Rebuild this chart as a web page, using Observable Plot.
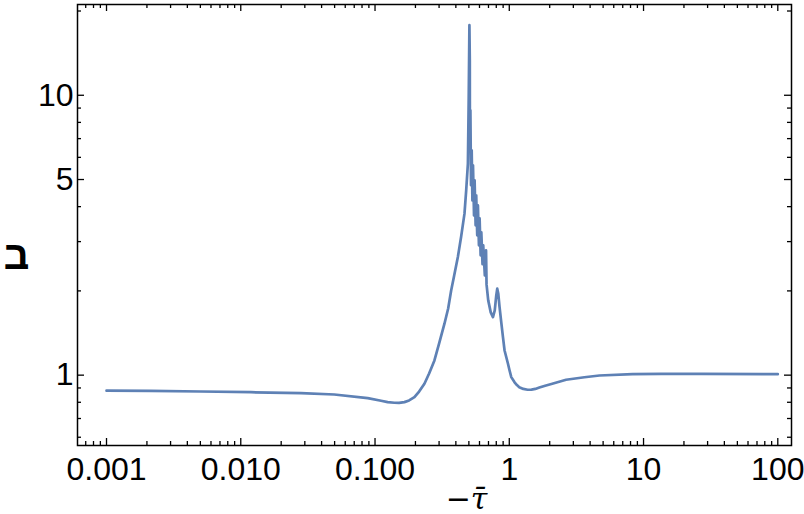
<!DOCTYPE html>
<html>
<head>
<meta charset="utf-8">
<script src="https://cdn.jsdelivr.net/npm/d3@7"></script>
<script src="https://cdn.jsdelivr.net/npm/@observablehq/plot@0.6"></script>
<style>
  html, body { margin: 0; padding: 0; background: #fff; }
  #chart svg { display: block; }
</style>
</head>
<body>
<div id="chart"></div>
<script>
// −τ̄ values (x) and ב values (y)
const tau = [
  0.001, 0.00213, 0.00503, 0.0119, 0.0281, 0.0497, 0.0882, 0.1109, 0.1242, 0.1394,
  0.151, 0.1655, 0.1794, 0.1965, 0.2130, 0.2333, 0.2529, 0.277, 0.3003, 0.329,
  0.3506, 0.369, 0.3887, 0.414, 0.4384, 0.4638, 0.4776, 0.4918, 0.4985, 0.5047,
  0.5082, 0.5090, 0.5133, 0.5187, 0.5249, 0.5313, 0.5368, 0.5461, 0.5518, 0.5614,
  0.5672, 0.5770, 0.5840, 0.5941, 0.6013, 0.6117, 0.6191, 0.6320, 0.6397, 0.6575,
  0.6713, 0.6770, 0.6970, 0.7277, 0.7557, 0.7795, 0.7999, 0.8137, 0.8277, 0.8465,
  0.8716, 0.8974, 0.9224, 0.9779, 1.005, 1.035, 1.095, 1.140, 1.187, 1.272, 1.370,
  1.463, 1.563, 1.675, 1.85, 2.058, 2.649, 3.628, 4.695, 8.28, 13.6, 27.1, 100
];
const bet = [
  0.880, 0.878, 0.874, 0.869, 0.862, 0.853, 0.828, 0.810, 0.801, 0.797,
  0.796, 0.801, 0.812, 0.834, 0.874, 0.932, 1.014, 1.129, 1.298, 1.527,
  1.731, 2.008, 2.272, 2.642, 3.133, 3.776, 4.575, 5.70, 9.60, 17.80,
  13.34, 6.36, 8.84, 4.77, 6.36, 4.21, 5.62, 3.72, 4.97, 3.43,
  4.39, 3.16, 4.04, 2.91, 3.63, 2.68, 3.24, 2.49, 2.91, 2.27,
  2.79, 2.11, 1.85, 1.676, 1.612, 1.703, 1.927, 2.037, 1.959, 1.751,
  1.543, 1.367, 1.225, 1.098, 1.039, 0.984, 0.943, 0.922, 0.906, 0.893, 0.887,
  0.888, 0.893, 0.903, 0.917, 0.930, 0.963, 0.983, 0.997, 1.008, 1.010, 1.010, 1.008
];

const xMajor = [0.001, 0.01, 0.1, 1, 10, 100];
const xMajorLabels = ["0.001", "0.010", "0.100", "1", "10", "100"];
const xMinor = [];
for (let k = -4; k <= 2; k++) for (let m = 2; m <= 9; m++) {
  const v = m * Math.pow(10, k);
  if (v > 0.00061 && v < 126) xMinor.push(v);
}
const yMajor = [1, 5, 10];
const yMajorLabels = ["1", "5", "10"];
const yMinor = [0.6, 0.7, 0.8, 0.9, 2, 3, 4, 6, 7, 8, 9, 20];

const xLabel = "−τ̄";
const yLabel = "ב";

const data = tau.map((t, i) => ({tau: t, bet: bet[i]}));

const W = 804, H = 514;
const mL = 77, mR = 13, mT = 4, mB = 69;
const fw = W - mL - mR, fh = H - mT - mB;
const major = 7, minor = 4;
const tickStyle = {stroke: "black", strokeWidth: 1.3};
const sans = "Liberation Sans";

const chart = Plot.plot({
  width: W, height: H,
  marginLeft: mL, marginRight: mR, marginTop: mT, marginBottom: mB,
  x: {type: "log", domain: [6.08e-4, 126.5], axis: null},
  y: {type: "log", domain: [0.5606, 21.1], axis: null},
  marks: [
    Plot.tickX(xMajor, {x: d => d, insetTop: fh - major, ...tickStyle}),
    Plot.tickX(xMajor, {x: d => d, insetBottom: fh - major, ...tickStyle}),
    Plot.tickX(xMinor, {x: d => d, insetTop: fh - minor, ...tickStyle}),
    Plot.tickX(xMinor, {x: d => d, insetBottom: fh - minor, ...tickStyle}),
    Plot.tickY(yMajor, {y: d => d, insetRight: fw - major, ...tickStyle}),
    Plot.tickY(yMajor, {y: d => d, insetLeft: fw - major, ...tickStyle}),
    Plot.tickY(yMinor, {y: d => d, insetRight: fw - minor, ...tickStyle}),
    Plot.tickY(yMinor, {y: d => d, insetLeft: fw - minor, ...tickStyle}),
    Plot.line(data, {x: "tau", y: "bet", stroke: "#5E81B5", strokeWidth: 2.7, strokeLinejoin: "round"}),
    Plot.frame({stroke: "black", strokeWidth: 1.5}),
    Plot.text(xMajor, {
      x: d => d, text: (d, i) => xMajorLabels[i], frameAnchor: "bottom",
      dy: 12, lineAnchor: "top", fontSize: 32, fontFamily: sans, fill: "black"
    }),
    Plot.text(yMajor, {
      y: d => d, text: (d, i) => yMajorLabels[i], frameAnchor: "left",
      dx: -4, textAnchor: "end", fontSize: 32, fontFamily: sans, fill: "black"
    }),
    Plot.text([xLabel], {
      text: d => d, frameAnchor: "bottom", dx: 32, dy: 63, lineAnchor: "bottom",
      fontSize: 30, fontStyle: "italic", fontFamily: "DejaVu Serif", fill: "black"
    }),
    Plot.text([yLabel], {
      text: d => d, frameAnchor: "left", dx: -61, dy: 31, textAnchor: "middle",
      fontSize: 40, fontWeight: "bold", fontFamily: sans, fill: "black"
    })
  ]
});
document.getElementById("chart").append(chart);
</script>
</body>
</html>
